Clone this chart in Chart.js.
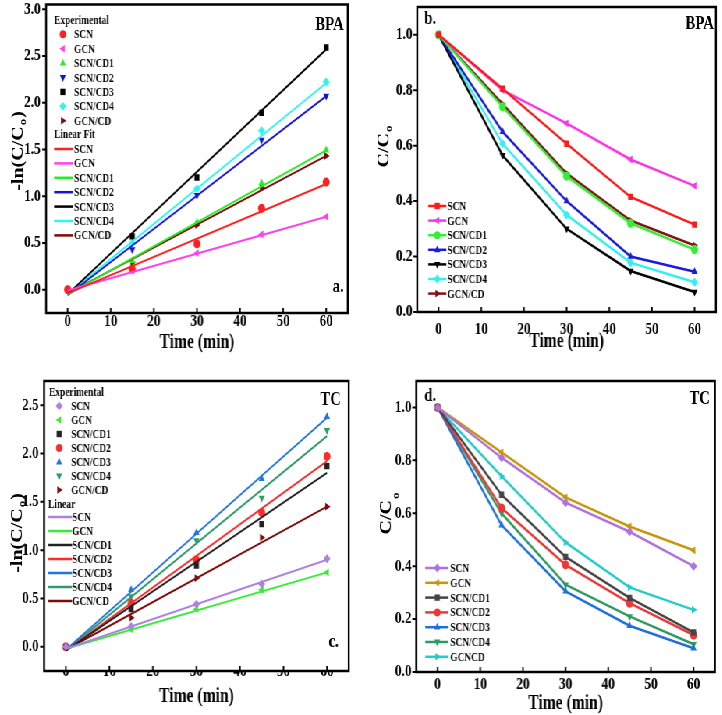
<!DOCTYPE html>
<html>
<head>
<meta charset="utf-8">
<script src="https://cdn.jsdelivr.net/npm/chart.js"></script>
<style>
  html, body { margin: 0; padding: 0; background: #fff; }
  body { width: 722px; height: 715px; overflow: hidden; position: relative; }
  #wrap { position: absolute; left: 0; top: 0; width: 925.64px; height: 715px; transform: scaleX(0.78); transform-origin: 0 0; }
  .panel { position: absolute; }
</style>
</head>
<body>
<div id="wrap"></div>
<script>
// the source figure is squeezed sideways, so the whole page is drawn wide and scaled by S
const S = 0.78;
const SERIF = '"Liberation Serif", "Times New Roman", serif';

const time = [0, 15, 30, 45, 60];
const fitTime = [0, 60];
const xTicks = [0, 10, 20, 30, 40, 50, 60];
const yTicksLnBPA = [0, 0.5, 1.0, 1.5, 2.0, 2.5, 3.0];
const yTicksLnTC = [0, 0.5, 1.0, 1.5, 2.0, 2.5];
const yTicksRatio = [0, 0.2, 0.4, 0.6, 0.8, 1.0];

const names = ['SCN', 'GCN', 'SCN/CD1', 'SCN/CD2', 'SCN/CD3', 'SCN/CD4', 'GCN/CD'];
const namesD = ['SCN', 'GCN', 'SCN/CD1', 'SCN/CD2', 'SCN/CD3', 'SCN/CD4', 'GCNCD'];

// a. BPA  -ln(C/C0)
const bpaLnSCN   = [0, 0.22, 0.49, 0.87, 1.15];
const bpaLnGCN   = [0, 0.20, 0.39, 0.59, 0.78];
const bpaLnCD1   = [0, 0.31, 0.72, 1.14, 1.49];
const bpaLnCD2   = [0, 0.43, 1.01, 1.60, 2.07];
const bpaLnCD3   = [0, 0.57, 1.20, 1.89, 2.59];
const bpaLnCD4   = [0, 0.50, 1.08, 1.70, 2.22];
const bpaLnGCNCD = [0, 0.29, 0.69, 1.09, 1.43];
// linear fit ends (t = 0, t = 60)
const bpaFitSCN   = [-0.04, 1.13];
const bpaFitGCN   = [-0.01, 0.78];
const bpaFitCD1   = [-0.05, 1.49];
const bpaFitCD2   = [-0.06, 2.07];
const bpaFitCD3   = [-0.05, 2.57];
const bpaFitCD4   = [-0.05, 2.21];
const bpaFitGCNCD = [-0.04, 1.43];

// b. BPA  C/C0
const bpaSCN   = [1, 0.805, 0.607, 0.415, 0.315];
const bpaGCN   = [1, 0.800, 0.680, 0.550, 0.455];
const bpaCD1   = [1, 0.740, 0.490, 0.320, 0.225];
const bpaCD2   = [1, 0.650, 0.400, 0.200, 0.145];
const bpaCD3   = [1, 0.565, 0.300, 0.148, 0.072];
const bpaCD4   = [1, 0.607, 0.350, 0.178, 0.107];
const bpaGCNCD = [1, 0.750, 0.500, 0.330, 0.240];

// c. TC  -ln(C/C0)
const tcLnSCN   = [0, 0.21, 0.44, 0.65, 0.91];
const tcLnGCN   = [0, 0.18, 0.39, 0.59, 0.77];
const tcLnCD1   = [0, 0.39, 0.84, 1.27, 1.87];
const tcLnCD2   = [0, 0.45, 0.90, 1.39, 1.97];
const tcLnCD3   = [0, 0.59, 1.18, 1.74, 2.38];
const tcLnCD4   = [0, 0.52, 1.10, 1.54, 2.24];
const tcLnGCNCD = [0, 0.30, 0.71, 1.13, 1.45];
const tcFitSCN   = [-0.02, 0.90];
const tcFitGCN   = [-0.02, 0.77];
const tcFitCD1   = [-0.04, 1.80];
const tcFitCD2   = [-0.04, 1.92];
const tcFitCD3   = [-0.03, 2.37];
const tcFitCD4   = [-0.04, 2.18];
const tcFitGCNCD = [-0.03, 1.45];

// d. TC  C/C0
const tcSCN   = [1, 0.810, 0.640, 0.530, 0.400];
const tcGCN   = [1, 0.830, 0.660, 0.550, 0.460];
const tcCD1   = [1, 0.670, 0.435, 0.280, 0.150];
const tcCD2   = [1, 0.620, 0.405, 0.260, 0.140];
const tcCD3   = [1, 0.555, 0.305, 0.175, 0.090];
const tcCD4   = [1, 0.600, 0.330, 0.210, 0.105];
const tcGCNCD = [1, 0.740, 0.490, 0.320, 0.235];

const colA = ['#ff1f1f', '#ff40f0', '#22ee22', '#1414dd', '#000000', '#30f4f4', '#7f0a0a'];
const colB = ['#ff1a1a', '#ff33e6', '#33ee33', '#1a1add', '#000000', '#30f0f0', '#7f1515'];
const colC = ['#b080e0', '#33ee33', '#222222', '#ff2a2a', '#1f74df', '#2f9a6a', '#7f0a0a'];
const colD = ['#b070e0', '#c9960a', '#444444', '#f03535', '#1f6fdf', '#2f9a60', '#22cccc'];

const styA = [['circle', 0], ['triangle', -90], ['triangle', 0], ['triangle', 180], ['rect', 0], ['rectRot', 0], ['triangle', 90]];
const styB = [['rect', 0], ['triangle', -90], ['circle', 0], ['triangle', 0], ['triangle', 180], ['rectRot', 0], ['triangle', 90]];
const styC = [['rectRot', 0], ['triangle', -90], ['rect', 0], ['circle', 0], ['triangle', 0], ['triangle', 180], ['triangle', 90]];

function pts(xs, ys) { return xs.map((x, i) => ({ x: x, y: ys[i] })); }

function marker(ctx, style, rot, x, y, r, color) {
  ctx.save();
  ctx.translate(x, y);
  ctx.rotate(rot * Math.PI / 180);
  ctx.fillStyle = color;
  ctx.beginPath();
  if (style === 'circle') ctx.arc(0, 0, r, 0, Math.PI * 2);
  else if (style === 'rect') ctx.rect(-r * 0.8, -r * 0.8, r * 1.6, r * 1.6);
  else if (style === 'rectRot') { ctx.moveTo(0, -r * 1.1); ctx.lineTo(r * 1.1, 0); ctx.lineTo(0, r * 1.1); ctx.lineTo(-r * 1.1, 0); }
  else { ctx.moveTo(0, -r * 1.1); ctx.lineTo(r * 0.95, r * 0.6); ctx.lineTo(-r * 0.95, r * 0.6); }
  ctx.closePath();
  ctx.fill();
  ctx.restore();
}

function subTitle(ctx, main, sub, tail, cx, cy, subDy) {
  ctx.save();
  ctx.translate(cx, cy);
  ctx.rotate(-Math.PI / 2);
  ctx.fillStyle = '#000';
  ctx.textBaseline = 'alphabetic';
  ctx.textAlign = 'left';
  const big = 'bold 20px ' + SERIF, small = 'bold 13px ' + SERIF;
  ctx.font = big; const w1 = ctx.measureText(main).width, w3 = ctx.measureText(tail).width;
  ctx.font = small; const w2 = ctx.measureText(sub).width;
  let x = -(w1 + w2 + w3) / 2;
  ctx.font = big; ctx.fillText(main, x, 7); x += w1;
  ctx.font = small; ctx.fillText(sub, x + 1, 7 + subDy); x += w2 + 2;
  ctx.font = big; ctx.fillText(tail, x, 7);
  ctx.restore();
}

// axes box, tick marks, titles, panel labels and legend, drawn from the plain config object
function makeDeco(o) {
  return {
    id: 'deco',
    afterDraw(chart) {
      const ctx = chart.ctx, a = chart.chartArea, xs = chart.scales.x, ys = chart.scales.y;
      ctx.save();
      ctx.strokeStyle = '#000';
      ctx.lineWidth = 2.5;
      ctx.strokeRect(a.left, a.top, a.right - a.left, a.bottom - a.top);
      ctx.lineWidth = 2;
      ctx.beginPath();
      ys.ticks.forEach(t => { const py = ys.getPixelForValue(t.value); ctx.moveTo(a.left - 5, py); ctx.lineTo(a.left, py); });
      xs.ticks.forEach(t => { const px = xs.getPixelForValue(t.value); ctx.moveTo(px, a.bottom); ctx.lineTo(px, a.bottom - 5); });
      ctx.stroke();

      ctx.fillStyle = '#000';
      ctx.font = 'bold 20px ' + SERIF;
      ctx.textAlign = 'center';
      ctx.textBaseline = 'alphabetic';
      ctx.fillText('Time (min)', (a.left + a.right) / 2, a.bottom + o.xTitleDy);
      subTitle(ctx, o.yTitle[0], o.yTitle[1], o.yTitle[2], o.yTitleX / S, o.yTitleY, o.subDy);

      ctx.font = 'bold 19px ' + SERIF;
      ctx.textBaseline = 'middle';
      o.labels.forEach(l => { ctx.textAlign = l.align; ctx.fillText(l.text, l.x / S, l.y); });

      ctx.font = 'bold 12px ' + SERIF;
      ctx.textAlign = 'left';
      o.legend.forEach(r => {
        if (r.line) {
          ctx.strokeStyle = r.color; ctx.lineWidth = 2.5;
          ctx.beginPath(); ctx.moveTo(r.line[0] / S, r.y); ctx.lineTo(r.line[1] / S, r.y); ctx.stroke();
        }
        if (r.mx) marker(ctx, r.style, r.rot, r.mx / S, r.y, 4, r.color);
        ctx.fillStyle = '#000';
        ctx.fillText(r.text, r.tx / S, r.y + 1);
      });
      ctx.restore();
    }
  };
}

function makePanel(p) {
  const div = document.createElement('div');
  div.className = 'panel';
  div.style.left = (p.left / S) + 'px';
  div.style.top = p.top + 'px';
  div.style.width = (p.w / S) + 'px';
  div.style.height = p.h + 'px';
  const cv = document.createElement('canvas');
  div.appendChild(cv);
  document.getElementById('wrap').appendChild(div);
  const tickFont = { family: SERIF, size: 17, weight: 'bold', lineHeight: 1 };
  new Chart(cv, {
    type: 'scatter',
    data: { datasets: p.datasets },
    options: {
      responsive: true,
      maintainAspectRatio: false,
      animation: false,
      layout: { padding: { top: p.plotT, right: (p.w - p.plotR) / S, left: 0, bottom: 0 } },
      plugins: { legend: { display: false }, tooltip: { enabled: false } },
      scales: {
        x: {
          type: 'linear', min: -5, max: 65,
          grid: { display: false, drawTicks: false, tickLength: 0 },
          border: { display: false },
          afterBuildTicks: s => { s.ticks = xTicks.map(v => ({ value: v })); },
          afterFit: s => { s.height = p.h - p.plotB; s.paddingLeft = 0; s.paddingRight = 0; },
          ticks: { font: tickFont, color: '#000', padding: p.xPad, maxRotation: 0, autoSkip: false }
        },
        y: {
          type: 'linear', min: p.yMin, max: p.yMax,
          grid: { display: false, drawTicks: false, tickLength: 0 },
          border: { display: false },
          afterBuildTicks: s => { s.ticks = p.yTicks.map(v => ({ value: v })); },
          afterFit: s => { s.width = p.plotL / S; s.paddingTop = 0; s.paddingBottom = 0; },
          ticks: { font: tickFont, color: '#000', padding: p.yPad, autoSkip: false, callback: v => v.toFixed(1) }
        }
      }
    },
    plugins: [makeDeco(p.deco)]
  });
}

function kineticSets(exp, fits, cols, sty) {
  const fitSets = fits.map((f, i) => ({
    data: pts(fitTime, f), showLine: true, borderColor: cols[i], borderWidth: 2, pointRadius: 0
  }));
  const expSets = exp.map((e, i) => ({
    data: pts(time, e), showLine: false, pointStyle: sty[i][0], rotation: sty[i][1],
    pointRadius: 4.5, backgroundColor: cols[i], borderColor: cols[i], borderWidth: 0
  }));
  return fitSets.concat(expSets);
}

function ratioSets(series, cols, sty) {
  return series.map((s, i) => ({
    data: pts(time, s), showLine: true, borderColor: cols[i], borderWidth: 2.5,
    pointStyle: sty[i][0], rotation: sty[i][1], pointRadius: 4.5,
    backgroundColor: cols[i], pointBorderColor: cols[i], pointBorderWidth: 0
  }));
}

function groupedLegend(h1, h2, labels, cols, sty, g) {
  const rows = [{ text: h1, tx: g.hx, y: g.h1y }];
  labels.forEach((n, i) => rows.push({ text: n, tx: g.tx, y: g.m0 + i * g.dy, mx: g.mx, style: sty[i][0], rot: sty[i][1], color: cols[i] }));
  rows.push({ text: h2, tx: g.hx2, y: g.h2y });
  labels.forEach((n, i) => rows.push({ text: n, tx: g.ltx, y: g.l0 + i * g.dy, line: g.line, color: cols[i] }));
  return rows;
}

function lineLegend(labels, cols, sty, g) {
  return labels.map((n, i) => ({ text: n, tx: g.tx, y: g.y0 + i * g.dy, line: g.line, mx: g.mx, style: sty[i][0], rot: sty[i][1], color: cols[i] }));
}

makePanel({
  left: 0, top: 0, w: 361, h: 357, plotL: 46, plotR: 347, plotT: 3, plotB: 313,
  yMin: -0.25, yMax: 3.05, yTicks: yTicksLnBPA, xPad: 0, yPad: 7,
  datasets: kineticSets(
    [bpaLnSCN, bpaLnGCN, bpaLnCD1, bpaLnCD2, bpaLnCD3, bpaLnCD4, bpaLnGCNCD],
    [bpaFitSCN, bpaFitGCN, bpaFitCD1, bpaFitCD2, bpaFitCD3, bpaFitCD4, bpaFitGCNCD], colA, styA),
  deco: {
    xTitleDy: 35, yTitle: ['-ln(C/C', 'o', ')'], yTitleX: 17, yTitleY: 152, subDy: 4,
    labels: [{ text: 'BPA', x: 343, y: 25, align: 'right' }, { text: 'a.', x: 343, y: 287, align: 'right' }],
    legend: groupedLegend('Experimental', 'Linear Fit', names, colA, styA,
      { hx: 54, h1y: 20, mx: 62.7, tx: 74, m0: 34.3, dy: 14.4, hx2: 54, h2y: 134, line: [54, 72.7], ltx: 74, l0: 149 })
  }
});

makePanel({
  left: 361, top: 0, w: 361, h: 357, plotL: 56, plotR: 354, plotT: 7, plotB: 312,
  yMin: 0, yMax: 1.1, yTicks: yTicksRatio, xPad: 9, yPad: 6,
  datasets: ratioSets([bpaSCN, bpaGCN, bpaCD1, bpaCD2, bpaCD3, bpaCD4, bpaGCNCD], colB, styB),
  deco: {
    xTitleDy: 35, yTitle: ['C/C', 'o', ''], yTitleX: 22, yTitleY: 147, subDy: 4,
    labels: [{ text: 'b.', x: 63, y: 19, align: 'left' }, { text: 'BPA', x: 352, y: 24, align: 'right' }],
    legend: lineLegend(names, colB, styB, { line: [67, 85], mx: 76, tx: 86, y0: 206, dy: 14.6 })
  }
});

makePanel({
  left: 0, top: 357, w: 361, h: 358, plotL: 44, plotR: 348, plotT: 24, plotB: 314,
  yMin: -0.25, yMax: 2.75, yTicks: yTicksLnTC, xPad: -8, yPad: 7,
  datasets: kineticSets(
    [tcLnSCN, tcLnGCN, tcLnCD1, tcLnCD2, tcLnCD3, tcLnCD4, tcLnGCNCD],
    [tcFitSCN, tcFitGCN, tcFitCD1, tcFitCD2, tcFitCD3, tcFitCD4, tcFitGCNCD], colC, styC),
  deco: {
    xTitleDy: 31, yTitle: ['-ln(C/C', 'o', ')'], yTitleX: 16, yTitleY: 177, subDy: 4,
    labels: [{ text: 'TC', x: 340, y: 43, align: 'right' }, { text: 'c.', x: 338, y: 285, align: 'right' }],
    legend: groupedLegend('Experimental', 'Linear', names, colC, styC,
      { hx: 49, h1y: 35, mx: 59, tx: 71, m0: 49, dy: 14, hx2: 48, h2y: 147, line: [48, 72], ltx: 72, l0: 160 })
  }
});

makePanel({
  left: 361, top: 357, w: 361, h: 358, plotL: 55, plotR: 353, plotT: 24, plotB: 315,
  yMin: 0, yMax: 1.1, yTicks: yTicksRatio, xPad: 4, yPad: 6,
  datasets: ratioSets([tcSCN, tcGCN, tcCD1, tcCD2, tcCD3, tcCD4, tcGCNCD], colD, styC),
  deco: {
    xTitleDy: 37, yTitle: ['C/C', 'o', ''], yTitleX: 24, yTitleY: 157, subDy: 10,
    labels: [{ text: 'd.', x: 63, y: 39, align: 'left' }, { text: 'TC', x: 348, y: 42, align: 'right' }],
    legend: lineLegend(namesD, colD, styC, { line: [64, 87], mx: 76, tx: 89, y0: 211, dy: 14.8 })
  }
});
</script>
</body>
</html>
